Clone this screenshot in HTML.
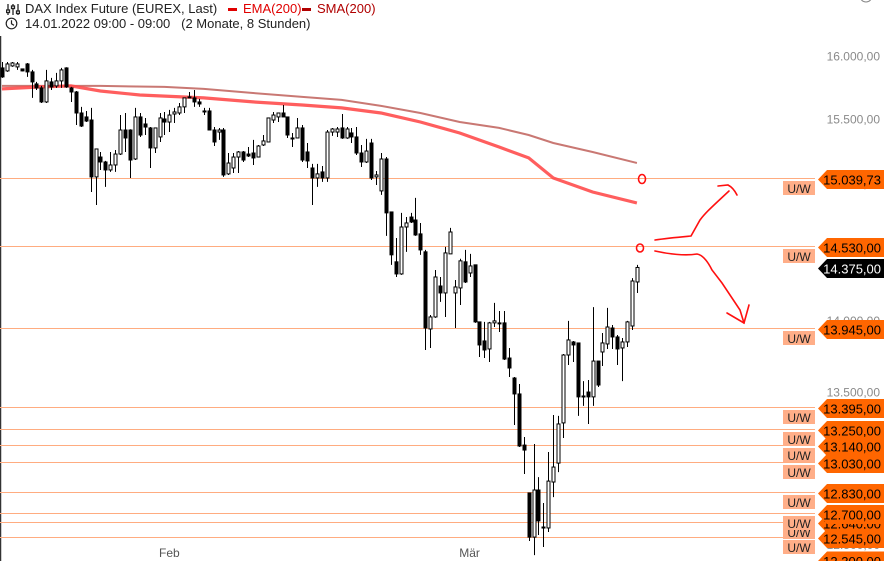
<!DOCTYPE html>
<html><head><meta charset="utf-8">
<style>
html,body{margin:0;padding:0;background:#fff;width:884px;height:561px;overflow:hidden;font-family:"Liberation Sans",sans-serif;}
#hdr{position:absolute;left:0;top:0;width:884px;height:36px;font-size:13px;color:#222;}
#chart{position:absolute;left:0;top:0;}
</style></head>
<body>
<svg id="chart" width="884" height="561"></svg>
<div id="hdr">
  <svg style="position:absolute;left:6px;top:3px" width="14" height="13">
    <g stroke="#222" stroke-width="1.3" fill="none"><line x1="2" y1="1" x2="2" y2="12"/><line x1="7" y1="1" x2="7" y2="12"/><line x1="12" y1="1" x2="12" y2="12"/><rect x="0.5" y="7" width="3" height="2.5" fill="#fff"/><rect x="5.5" y="3" width="3" height="2.5" fill="#fff"/><rect x="10.5" y="8" width="3" height="2.5" fill="#fff"/></g>
  </svg>
  <span style="position:absolute;left:25px;top:1px">DAX Index Future (EUREX, Last)</span>
  <span style="position:absolute;left:228px;top:8px;width:9px;height:3px;background:#e00000"></span>
  <span style="position:absolute;left:243px;top:1px;color:#e00000">EMA(200)</span>
  <span style="position:absolute;left:302px;top:8px;width:9px;height:3px;background:#b00000"></span>
  <span style="position:absolute;left:317px;top:1px;color:#b00000">SMA(200)</span>
  <svg style="position:absolute;left:5px;top:17px" width="13" height="13">
    <circle cx="6.5" cy="6.5" r="5.3" stroke="#222" stroke-width="1.2" fill="none"/><path d="M6.5 3.2V6.8L9 8.3" stroke="#222" stroke-width="1.2" fill="none"/>
  </svg>
  <span style="position:absolute;left:25px;top:16px">14.01.2022 09:00 - 09:00&nbsp;&nbsp;&nbsp;(2 Monate, 8 Stunden)</span>
  <svg style="position:absolute;left:856px;top:-6px" width="20" height="12"><circle cx="10" cy="2" r="6" stroke="#888" fill="none"/></svg>
</div>
<script>
const opens=[15900,15876,15916,15908,15892,15932,15868,15772,15740,15629,15788,15756,15796,15900,15740,15708,15542,15511,15487,15048,15200,15162,15101,15139,15223,15409,15409,15185,15511,15456,15425,15270,15355,15495,15471,15534,15542,15590,15669,15661,15629,15558,15558,15409,15393,15409,15071,15116,15200,15239,15223,15231,15200,15293,15316,15487,15511,15542,15511,15347,15347,15425,15239,15116,15040,15086,15040,15393,15393,15425,15347,15386,15355,15231,15162,15308,15048,14942,15185,14784,14416,14328,14672,14746,14724,14621,14489,13935,14020,14241,14191,14474,14191,14227,14416,14335,14394,13985,13851,13795,13978,13978,13978,13732,13594,13485,13141,12827,12544,12846,12608,12602,12898,13022,13289,13753,13844,13837,13471,13498,13465,13711,13774,13830,13942,13879,13802,13844,13956,14270];
const highs=[15948,15948,15948,15948,15895,15940,15884,15788,15756,15884,15820,15860,15900,15905,15748,15716,15590,15558,15582,15265,15239,15170,15239,15254,15526,15542,15415,15582,15542,15503,15432,15428,15542,15550,15566,15582,15621,15661,15708,15724,15653,15582,15582,15432,15425,15425,15231,15231,15246,15246,15277,15332,15293,15370,15503,15550,15542,15605,15511,15386,15503,15448,15308,15147,15147,15131,15409,15425,15432,15534,15432,15425,15432,15293,15340,15340,15093,15231,15200,14784,14591,14777,14746,14777,14889,14702,14503,14034,14357,14306,14525,14665,14284,14438,14503,14474,14394,13985,13985,13985,14120,14062,14062,13802,13601,13553,13195,12827,13148,12930,12762,13095,13342,13336,13760,13992,13851,13837,13573,13580,14090,13711,13907,14084,13963,13893,13872,13992,14298,14394];
const lows=[15820,15868,15908,15884,15872,15828,15661,15724,15621,15621,15724,15740,15740,15740,15629,15448,15432,15471,14934,14836,15101,14972,15086,15086,15216,15239,15040,15177,15355,15370,15116,15231,15316,15370,15393,15464,15526,15542,15661,15590,15590,15526,15405,15285,15332,15048,15063,15078,15078,15162,15200,15139,15200,15285,15316,15464,15471,15511,15347,15277,15347,15162,15116,14836,14972,15010,15010,15363,15355,15340,15340,15308,15216,15124,15154,15025,14987,14912,14606,14394,14306,14321,14489,14702,14606,14467,13788,13802,14013,14127,14020,14474,13942,14105,14263,14306,13978,13739,13732,13704,13949,13914,13718,13601,13275,13128,12950,12519,12430,12557,12481,12576,12800,12963,13188,13684,13704,13336,13404,13282,13404,13532,13677,13795,13795,13684,13573,13809,13928,14191];
const closes=[15828,15932,15940,15932,15876,15868,15788,15740,15629,15796,15748,15796,15884,15748,15708,15542,15440,15479,15048,15262,15162,15101,15139,15223,15409,15347,15177,15511,15370,15432,15270,15425,15503,15471,15526,15550,15590,15661,15665,15629,15613,15550,15409,15316,15409,15063,15154,15200,15239,15177,15208,15193,15285,15324,15503,15526,15542,15511,15370,15345,15425,15177,15170,15040,15071,15040,15393,15417,15417,15347,15417,15355,15231,15162,15246,15040,15063,15185,14777,14467,14328,14672,14702,14709,14613,14503,13942,14020,14306,14191,14481,14635,14234,14423,14270,14386,13985,13823,13788,13978,13992,13975,13725,13663,13485,13135,13108,12544,12846,12647,12606,12904,12996,13282,13753,13858,13823,13465,13468,13465,13711,13546,13837,13949,13879,13795,13844,13985,14277,14375];
const smaIdx=[0,20,33,41,51,61,69,77,85,93,101,107,112,120,129];
const smaVals=[15756,15756,15748,15732,15700,15669,15645,15598,15542,15471,15425,15370,15308,15239,15154];
const emaIdx=[0,8,14,20,28,41,51,61,69,77,85,93,101,107,112,120,129];
const emaVals=[15732,15748,15756,15716,15684,15661,15629,15605,15582,15542,15471,15386,15277,15193,15040,14934,14851];
const levels=[15039.73,14530,13945,13395,13250,13140,13030,12830,12640,12700,12545];
const levelLabels=["15.039,73","14.530,00","13.945,00","13.395,00","13.250,00","13.140,00","13.030,00","12.830,00","12.640,00","12.700,00","12.545,00"];
const tickVals=[16000,15500,15000,14500,14000,13500,13000,12500];
const tickLabels=["16.000,00","15.500,00","15.000,00","14.500,00","14.000,00","13.500,00","13.000,00","12.500,00"];
const lastPrice=14375;
const dateIdx=[34,95];
const dateLabels=["Feb","Mär"];

const NS="http://www.w3.org/2000/svg";
const svg=document.getElementById('chart');
function yS(p){return 178+1979*Math.log(15039.73/p);}
function xS(i){return 2+i*4.922;}
function mk(tag,attrs,parent){const e=document.createElementNS(NS,tag);for(const k in attrs)e.setAttribute(k,attrs[k]);(parent||svg).appendChild(e);return e;}

// left border
const lb=mk('line',{x1:0.5,y1:36,x2:0.5,y2:561,stroke:'#333','stroke-width':1.5});



// axis ticks
tickVals.forEach((v,i)=>{
  const t=mk('text',{x:880,y:yS(v)+5,'text-anchor':'end','font-size':12,fill:'#8a8a8a','font-family':'Liberation Sans, sans-serif'});
  t.textContent=tickLabels[i];
  
  
});
// dates
dateIdx.forEach((d,i)=>{
  const t=mk('text',{x:xS(d),y:557,'text-anchor':'middle','font-size':12,fill:'#555','font-family':'Liberation Sans, sans-serif'});
  t.textContent=dateLabels[i];
  
  
});
// level lines
levels.forEach((v)=>{
  const y=Math.round(yS(v))+0.5;
  const l=mk('line',{x1:0,y1:y,x2:815,y2:y,stroke:'#ffac80','stroke-width':1});
  
  
});
// MAs
function maPath(idx,vals){return idx.map((d,i)=>(i?'L':'M')+xS(d).toFixed(1)+' '+yS(vals[i]).toFixed(1)).join(' ');}
const sma=mk('path',{d:maPath(smaIdx,smaVals),stroke:'#c0605a','stroke-opacity':0.85,'stroke-width':2,fill:'none'});


const ema=mk('path',{d:maPath(emaIdx,emaVals),stroke:'#ff4d4d','stroke-opacity':0.9,'stroke-width':3.2,fill:'none'});



// candles
opens.forEach((o,i)=>{
  const x=Math.round(xS(i))+0.5,c=closes[i],h=highs[i],lo=lows[i];
  const g=mk('g',{});
  
  
  mk('line',{x1:x,y1:yS(h),x2:x,y2:yS(lo),stroke:'#000','stroke-width':1},g);
  const top=yS(Math.max(o,c)),bot=yS(Math.min(o,c));
  mk('rect',{x:x-1.5,y:top,width:3,height:Math.max(bot-top,1),fill:c>=o?'#fff':'#000',stroke:'#000','stroke-width':1},g);
});

// U/W boxes + price labels
function priceLabel(cy,txt,bg,fg,name){
  const g=mk('g',{});
  
  
  mk('path',{d:`M818 ${cy} L827 ${cy-9.5} L884 ${cy-9.5} L884 ${cy+9.5} L827 ${cy+9.5} Z`,fill:bg},g);
  const t=mk('text',{x:881,y:cy+5,'text-anchor':'end','font-size':13,fill:fg,'font-family':'Liberation Sans, sans-serif'},g);
  t.textContent=txt;
}
levels.forEach((v)=>{
  const y=Math.round(yS(v));
  const g=mk('g',{});
  
  
  mk('rect',{x:783,y:y+3,width:32,height:14,fill:'#ffae88'},g);
  const t=mk('text',{x:799,y:y+15,'text-anchor':'middle','font-size':12,fill:'#222','font-family':'Liberation Sans, sans-serif'},g);
  t.textContent='U/W';
});
priceLabel(561,'12.300,00','#ff6600','#000','level-price-label');
levels.forEach((v,i)=>{priceLabel(Math.round(yS(v))+1.5,levelLabels[i],'#ff6600','#000','level-price-label');});
priceLabel(yS(lastPrice)+1,'14.375,00','#000','#fff','last-price-label');

// annotations
const ann=mk('g',{stroke:'#ff1010','stroke-width':1.6,fill:'none','stroke-linecap':'round'});


mk('ellipse',{cx:642,cy:179,rx:3.5,ry:4.5},ann);
mk('ellipse',{cx:640,cy:248,rx:3.5,ry:4},ann);
mk('path',{d:'M655 240 C668 238 680 237 691 236 L700 220 C706 212 713 206 729 191'},ann);
mk('path',{d:'M718 186 L728 185 C732 187 735 191 737 195'},ann);
mk('path',{d:'M655 251 C668 254 685 256 697 254 C703 255 708 262 712 270 L722 283 L740 310 L744 323'},ann);
mk('path',{d:'M727 313 L744 323 L749 305'},ann);
</script>
</body></html>
